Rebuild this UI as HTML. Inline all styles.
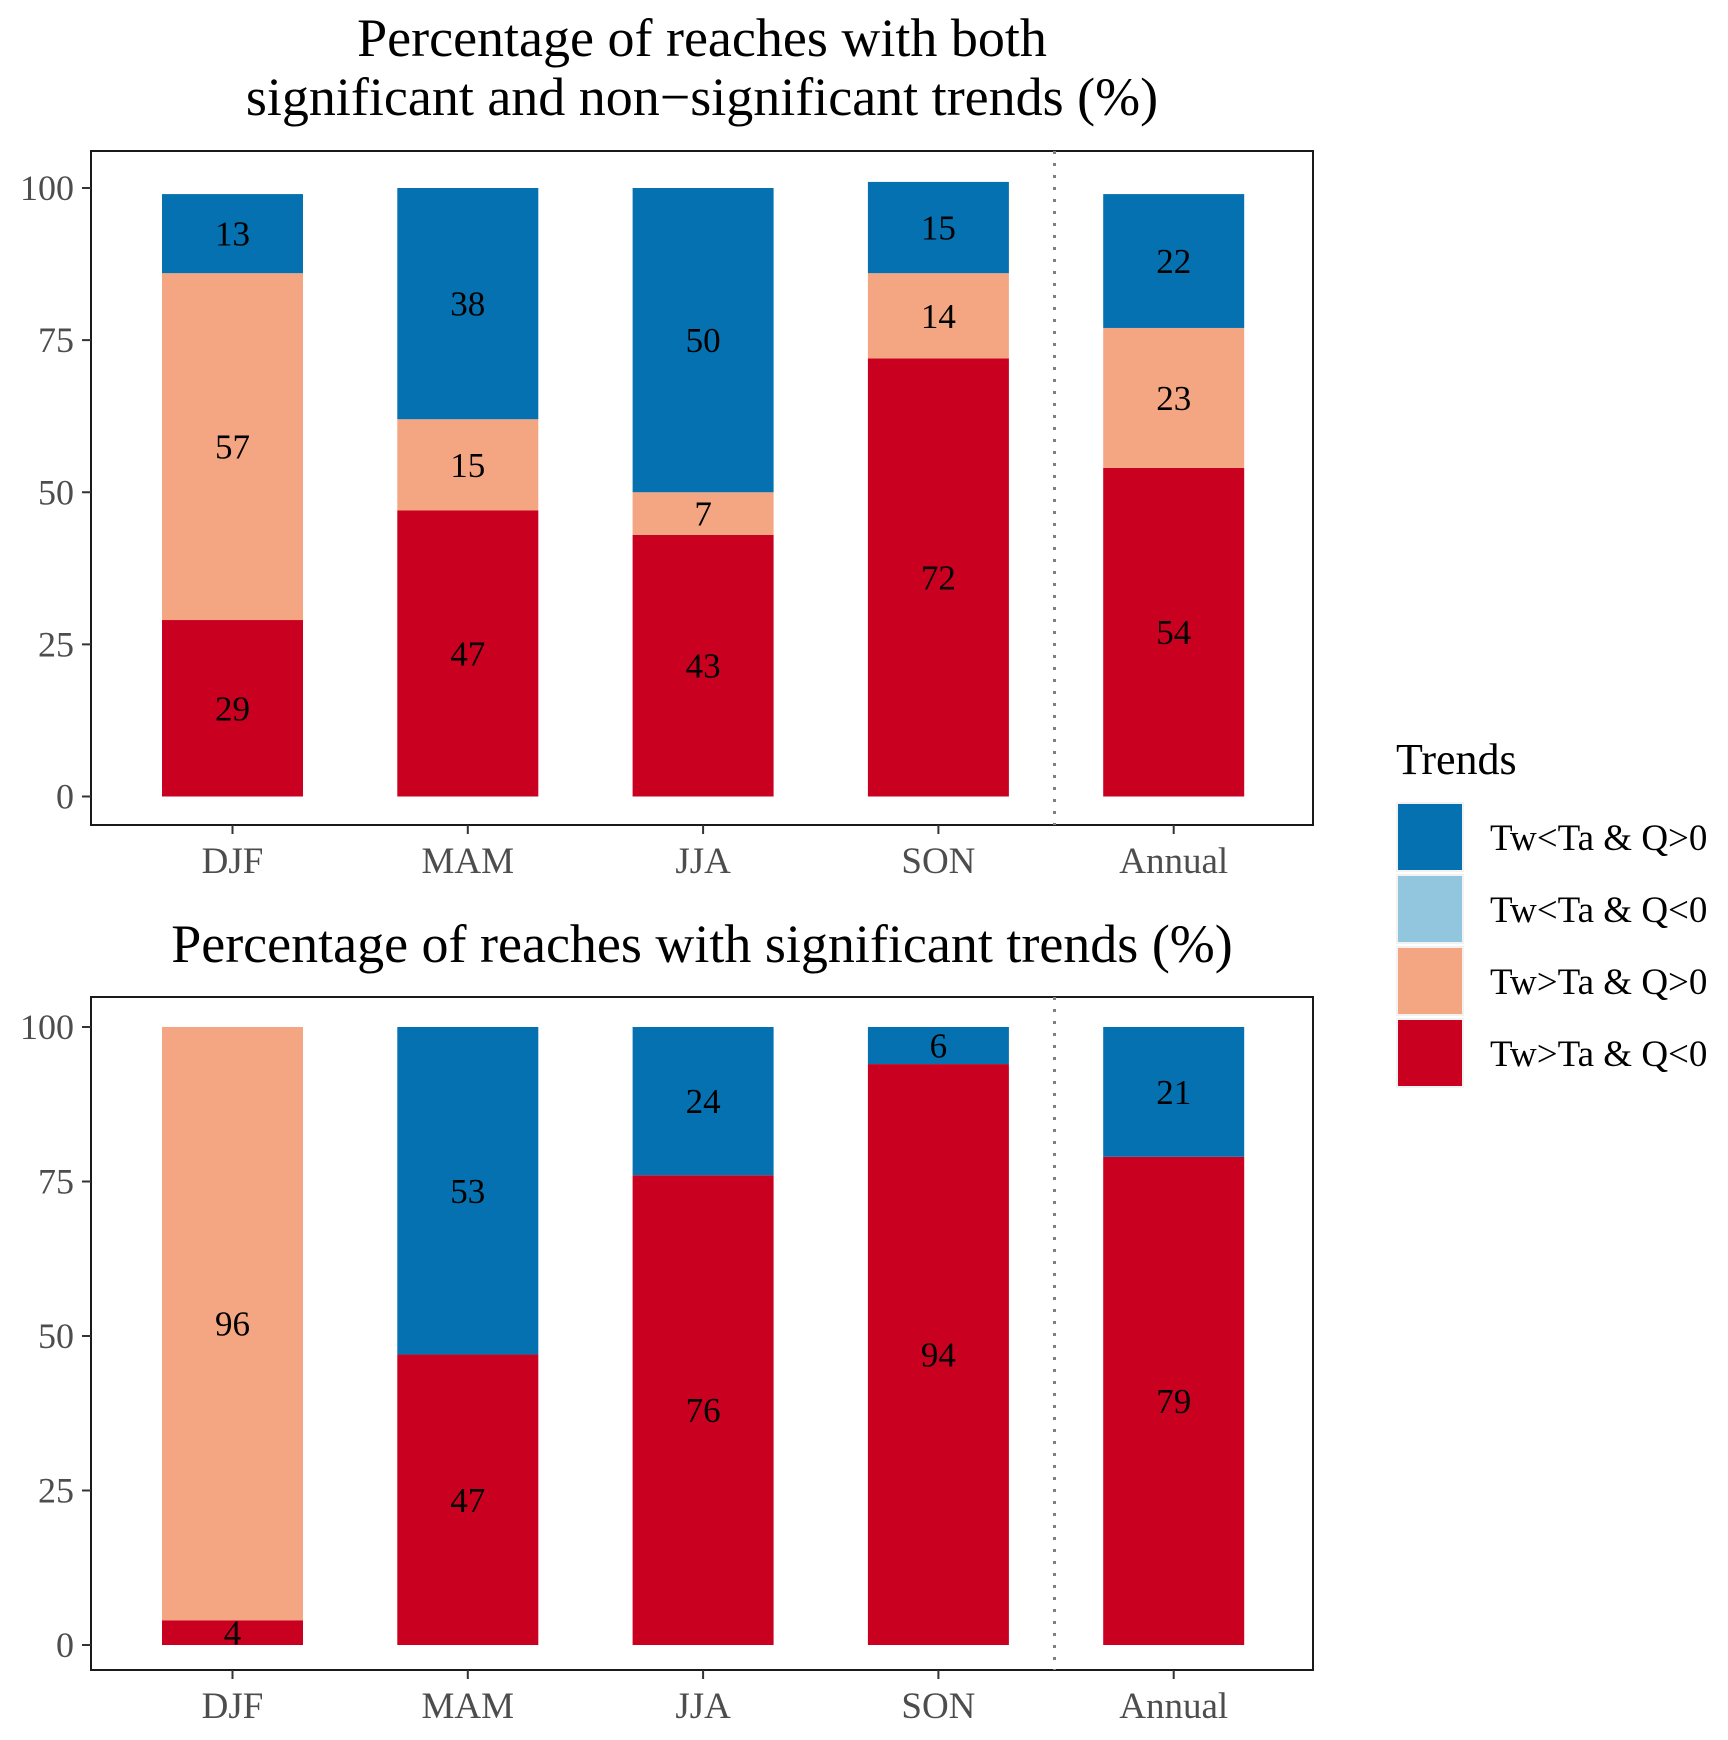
<!DOCTYPE html>
<html><head><meta charset="utf-8"><style>
html,body{margin:0;padding:0;background:#fff}
svg{display:block;font-family:"Liberation Serif",serif}
</style></head><body>
<svg id="chart" width="1728" height="1740" viewBox="0 0 1728 1740" xmlns="http://www.w3.org/2000/svg">
<text x="702" y="56" font-size="54" text-anchor="middle">Percentage of reaches with both</text>
<text x="702" y="115" font-size="54" text-anchor="middle">significant and non−significant trends (%)</text>
<text x="702" y="962" font-size="54" text-anchor="middle">Percentage of reaches with significant trends (%)</text>
<g id="p1"></g>
<g id="p2"></g>
<g id="legend">
<text x="1396" y="774" font-size="44">Trends</text>
</g>
</svg>
<script>
const categories = ["DJF","MAM","JJA","SON","Annual"];
const series = ["Tw>Ta & Q<0","Tw>Ta & Q>0","Tw<Ta & Q<0","Tw<Ta & Q>0"];
const colors = ["#ca0020","#f4a582","#92c5de","#0571b0"];
const topRed = [29,47,43,72,54];
const topSalmon = [57,15,7,14,23];
const topLight = [0,0,0,0,0];
const topBlue = [13,38,50,15,22];
const botRed = [4,47,76,94,79];
const botSalmon = [96,0,0,0,0];
const botLight = [0,0,0,0,0];
const botBlue = [0,53,24,6,21];
const yTicks = [0,25,50,75,100];

const NS = "http://www.w3.org/2000/svg";
function mk(tag, attrs, parent){const e=document.createElementNS(NS,tag);for(const k in attrs)e.setAttribute(k,attrs[k]);parent.appendChild(e);return e;}

function panel(g, top, bottom, y0px, y100px, data){
  const left=91, right=1313;
  const x = i => 232.5 + i*235.3;
  const y = v => y0px + (y100px - y0px)*v/100;
  const bw = 141;
  let r = mk("rect",{x:left,y:top,width:right-left,height:bottom-top,fill:"#fff",stroke:"#1a1a1a","stroke-width":2},g);
  
  
  categories.forEach((c,i)=>{
    let base=0;
    data.forEach((arr,s)=>{
      const v=arr[i];
      if(v<=0) return;
      const b=mk("rect",{x:x(i)-bw/2,y:y(base+v),width:bw,height:y(base)-y(base+v),fill:colors[s]},g);
      
      
      const t=mk("text",{x:x(i),y:y(base+v/2)+12,"font-size":35,"text-anchor":"middle",fill:"#000"},g);
      
      
      t.textContent=v;
      base+=v;
    });
    const tk=mk("line",{x1:x(i),x2:x(i),y1:bottom,y2:bottom+9,stroke:"#333","stroke-width":2},g);
    
    
    const tl=mk("text",{x:x(i),y:bottom+48,"font-size":37,"text-anchor":"middle",fill:"#4d4d4d"},g);
    
    
    tl.textContent=c;
  });
  yTicks.forEach(v=>{
    const tk=mk("line",{x1:left-9,x2:left,y1:y(v),y2:y(v),stroke:"#333","stroke-width":2},g);
    
    
    const tl=mk("text",{x:left-17,y:y(v)+12,"font-size":36,"text-anchor":"end",fill:"#4d4d4d"},g);
    
    
    tl.textContent=v;
  });
  const d=mk("line",{x1:1054.5,x2:1054.5,y1:top,y2:bottom,stroke:"#808080","stroke-width":3,"stroke-dasharray":"3,9"},g);
  
  
}
panel(document.getElementById("p1"),151,825,796.5,188,[topRed,topSalmon,topLight,topBlue]);
panel(document.getElementById("p2"),997,1670,1645,1027,[botRed,botSalmon,botLight,botBlue]);

const lg=document.getElementById("legend");
const legendLabels=["Tw<Ta & Q>0","Tw<Ta & Q<0","Tw>Ta & Q>0","Tw>Ta & Q<0"];
const legendColors=["#0571b0","#92c5de","#f4a582","#ca0020"];
legendLabels.forEach((l,i)=>{
  const yy=802+i*72;
  const bg=mk("rect",{x:1396,y:yy,width:68,height:70,fill:"#f2f2f2"},lg);
  
  
  const k=mk("rect",{x:1398,y:yy+2,width:64,height:66,fill:legendColors[i]},lg);
  
  
  const t=mk("text",{x:1490,y:yy+48,"font-size":37},lg);
  
  
  t.textContent=l;
});
</script>
</body></html>
